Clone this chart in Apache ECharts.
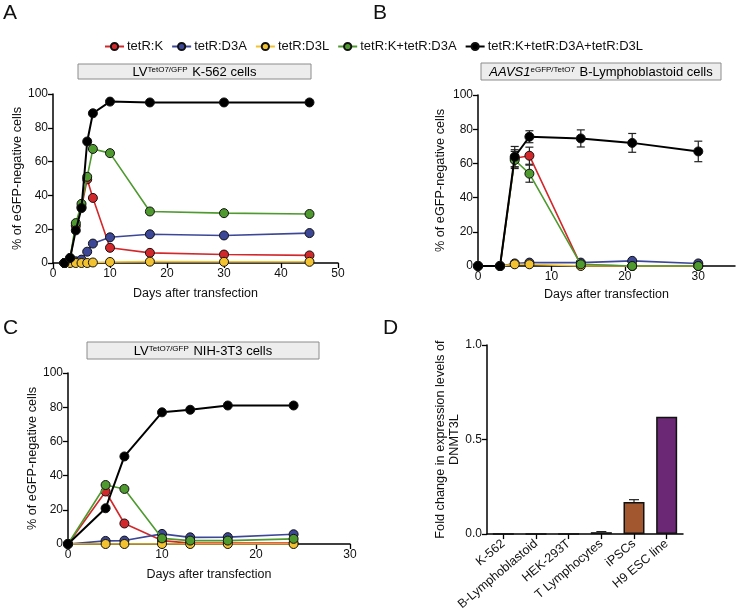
<!DOCTYPE html>
<html><head><meta charset="utf-8">
<script src="https://cdn.jsdelivr.net/npm/echarts@6/dist/echarts.min.js"></script>
<style>html,body{margin:0;padding:0;background:#fff}#c{width:747px;height:613px}</style>
</head><body><div id="c"></div>
<script>
const FONT = '"Liberation Sans", Arial, Helvetica, sans-serif';
const seriesNames = ['tetR:K','tetR:D3A','tetR:D3L','tetR:K+tetR:D3A','tetR:K+tetR:D3A+tetR:D3L'];
const seriesColors = ['#d3282b','#3c4798','#f2c230','#4e9a2f','#000000'];

// Panel A: LV TetO7/GFP K-562 cells
const aDays  = [2,3,4,5,6,7,10,17,30,45];
const aK     = [0,2,22,33,49.5,38.5,9,6,5,4.5];
const aD3A   = [0,1,1,2,6.7,11.5,15.2,17,16.3,17.7];
const aD3L   = [0,0,0,0,0,0.3,0.6,0.8,0.7,0.7];
const aKD3A  = [0,3,23.6,35,51,67.5,65,30.5,29.5,29];
const aAll   = [0,3,19.3,32.5,71.9,88.6,95.5,95,95,95];

// Panel B: AAVS1 eGFP/TetO7 B-Lymphoblastoid cells
const bDays  = [0,3,5,7,14,21,30];
const bK     = [0,0,63,64.5,0.5,0,0];
const bKErr  = [0,0,5,5,0,0,0];
const bD3A   = [0,0,1.5,2,2,3,1.5];
const bD3L   = [0,0,1,1,0,0,0];
const bKD3A  = [0,0,62,54,1,0,0];
const bKD3AErr = [0,0,5,5,0,0,0];
const bAll   = [0,0,63.9,75.6,74.6,72,67];
const bAllErr = [0,0,6,3.5,5,5.5,6];

// Panel C: LV TetO7/GFP NIH-3T3 cells
const cDays  = [0,4,6,10,13,17,24];
const cK     = [0,30.7,12,2,0.5,0.5,0.5];
const cD3A   = [0,1.8,2,5.9,3.9,4,5.7];
const cD3L   = [0,0,0,0,0,0,0];
const cKD3A  = [0,34.5,32.2,3.3,2,2,3];
const cAll   = [0,20.9,51.2,77,78.5,81,81];

// Panel D: DNMT3L expression
const dCategories = ['K-562','B-Lymphoblastoid','HEK-293T','T Lymphocytes','iPSCs','H9 ESC line'];
const dValues = [0,0,0,0.01,0.17,0.62];
const dErr    = [0,0,0,0.003,0.012,0];
const dColors = ['#555555','#555555','#555555','#555555','#a3572f','#6a2875'];

const zip = (xs, ys) => xs.map((x,i)=>[x, ys[i]]);
const zip3 = (xs, ys, es) => xs.map((x,i)=>[x, ys[i], es[i]]);

function lineSeries(idx, data, axis){
  const isBlack = idx === 4;
  return {
    type:'line', name: seriesNames[idx], xAxisIndex: axis, yAxisIndex: axis,
    data, symbol:'circle', symbolSize: 9, z: 2 + idx,
    lineStyle:{color: seriesColors[idx], width: isBlack ? 2 : 1.6},
    itemStyle:{color: seriesColors[idx], borderColor:'#111', borderWidth: 1},
    emphasis:{disabled:true}, animation:false
  };
}

function errRender(params, api){
  const x = api.value(0), y = api.value(1), e = api.value(2);
  if (!e) return null;
  const t = api.coord([x, y+e]), b = api.coord([x, y-e]);
  const w = 4, st = {stroke:'#222', lineWidth:1.2};
  return {type:'group', children:[
    {type:'line', shape:{x1:t[0],y1:t[1],x2:b[0],y2:b[1]}, style:st},
    {type:'line', shape:{x1:t[0]-w,y1:t[1],x2:t[0]+w,y2:t[1]}, style:st},
    {type:'line', shape:{x1:b[0]-w,y1:b[1],x2:b[0]+w,y2:b[1]}, style:st}
  ]};
}
function errRenderUp(params, api){
  const x = api.value(0), y = api.value(1), e = api.value(2);
  if (!e) return null;
  const t = api.coord([x, y+e]), b = api.coord([x, y]);
  const w = 5, st = {stroke:'#222', lineWidth:1.2};
  return {type:'group', children:[
    {type:'line', shape:{x1:t[0],y1:t[1],x2:b[0],y2:b[1]}, style:st},
    {type:'line', shape:{x1:t[0]-w,y1:t[1],x2:t[0]+w,y2:t[1]}, style:st}
  ]};
}

const axisCommon = {
  axisLine:{show:true, onZero:false, lineStyle:{color:'#000', width:1.5}},
  axisTick:{show:true, inside:false, length:5, lineStyle:{color:'#000', width:1.3}},
  axisLabel:{color:'#111', fontSize:12, fontFamily:FONT, margin:5},
  splitLine:{show:false},
  nameTextStyle:{color:'#111', fontSize:12.5, fontFamily:FONT}
};
function xVal(grid, max, interval, nameGap, custom){
  const a = Object.assign({}, axisCommon, {
    type:'value', gridIndex:grid, min:0, max, interval,
    name:'Days after transfection', nameLocation:'middle', nameGap
  });
  if (custom){
    a.axisLabel = Object.assign({}, axisCommon.axisLabel, {customValues:custom});
    a.axisTick = Object.assign({}, axisCommon.axisTick, {customValues:custom});
  }
  return a;
}
function yVal(grid, nameGap){
  return Object.assign({}, axisCommon, {
    type:'value', gridIndex:grid, min:0, max:100, interval:20,
    name:'% of eGFP-negative cells', nameLocation:'middle', nameGap,
    nameTextStyle:{color:'#111', fontSize:12.7, fontFamily:FONT}
  });
}

function titleBox(x, y, w, h, text, rich){
  return {type:'group', children:[
    {type:'rect', shape:{x, y, width:w, height:h}, style:{fill:'#ededed', stroke:'#8c8c8c', lineWidth:1}},
    {type:'text', x: x + w/2, y: y + h/2 + 1, style:{text, rich, align:'center', verticalAlign:'middle'}}
  ]};
}
const richBase = {
  n:{fontSize:13, fontFamily:FONT, color:'#111'},
  i:{fontSize:13, fontFamily:FONT, color:'#111', fontStyle:'italic'},
  s:{fontSize:8, fontFamily:FONT, color:'#111', verticalAlign:'top', padding:[0,1,6,0]}
};
function letter(t, x, y){
  return {type:'text', x, y, style:{text:t, fontSize:21, fontFamily:FONT, fill:'#111'}};
}

const option = {
  backgroundColor:'#fff',
  animation:false,
  legend:{
    data: seriesNames, top: 35, left:'center',
    itemWidth: 19, itemHeight: 9, itemGap: 8,
    textStyle:{fontSize:13, fontFamily:FONT, color:'#111', padding:[0,0,0,-2]}
  },
  grid:[
    {left:53, top:94, width:285, height:169},
    {left:478, top:95, width:257, height:171},
    {left:68, top:373, width:282, height:171},
    {left:487, top:345, width:196, height:190}
  ],
  xAxis:[
    xVal(0, 50, 10, 24),
    xVal(1, 35, 10, 22, [0,10,20,30]),
    xVal(2, 30, 10, 24),
    Object.assign({}, axisCommon, {
      type:'category', gridIndex:3, data:dCategories,
      axisTick:{show:true, alignWithLabel:true, length:5, lineStyle:{color:'#000', width:1.3}},
      axisLabel:{color:'#111', fontSize:12.5, fontFamily:FONT, rotate:40, margin:8, interval:0}
    })
  ],
  yAxis:[
    yVal(0, 29),
    yVal(1, 31),
    yVal(2, 28),
    Object.assign({}, axisCommon, {
      type:'value', gridIndex:3, min:0, max:1, interval:0.5,
      axisLabel:Object.assign({}, axisCommon.axisLabel, {formatter:v=>v.toFixed(1)}),
      name:'Fold change in expression levels of\nDNMT3L', nameLocation:'middle', nameGap:26,
      nameTextStyle:{color:'#111', fontSize:12.7, fontFamily:FONT, lineHeight:14}
    })
  ],
  series:[
    // A
    lineSeries(2, zip(aDays,aD3L), 0),
    lineSeries(1, zip(aDays,aD3A), 0),
    lineSeries(3, zip(aDays,aKD3A), 0),
    lineSeries(0, zip(aDays,aK), 0),
    lineSeries(4, zip(aDays,aAll), 0),
    // B
    {type:'custom', xAxisIndex:1, yAxisIndex:1, renderItem:errRender, data:zip3(bDays,bKD3A,bKD3AErr), z:1, silent:true},
    {type:'custom', xAxisIndex:1, yAxisIndex:1, renderItem:errRender, data:zip3(bDays,bK,bKErr), z:1, silent:true},
    {type:'custom', xAxisIndex:1, yAxisIndex:1, renderItem:errRender, data:zip3(bDays,bAll,bAllErr), z:1, silent:true},
    lineSeries(2, zip(bDays,bD3L), 1),
    lineSeries(1, zip(bDays,bD3A), 1),
    lineSeries(3, zip(bDays,bKD3A), 1),
    lineSeries(0, zip(bDays,bK), 1),
    lineSeries(4, zip(bDays,bAll), 1),
    // C
    lineSeries(2, zip(cDays,cD3L), 2),
    lineSeries(4, zip(cDays,cAll), 2),
    lineSeries(3, zip(cDays,cKD3A), 2),
    lineSeries(1, zip(cDays,cD3A), 2),
    lineSeries(0, zip(cDays,cK), 2),
    // D
    {type:'bar', xAxisIndex:3, yAxisIndex:3, barWidth:21,
     data: dValues.map((v,i)=>({value:v, itemStyle:{color:dColors[i]}})),
     itemStyle:{borderColor:'#111', borderWidth:1.5}, emphasis:{disabled:true}},
    {type:'custom', xAxisIndex:3, yAxisIndex:3, renderItem:errRenderUp,
     data: dValues.map((v,i)=>[i, v, dErr[i]]), z:3, silent:true}
  ],
  graphic:[
    letter('A', 3, 3), letter('B', 373, 3), letter('C', 3, 318), letter('D', 383, 318),
    titleBox(78, 64, 233, 15, '{n|LV}{s|TetO7/GFP}{n| K-562 cells}', richBase),
    titleBox(481, 63, 240, 17, '{i|AAVS1}{s|eGFP/TetO7}{n| B-Lymphoblastoid cells}', richBase),
    titleBox(87, 342, 232, 17, '{n|LV}{s|TetO7/GFP}{n| NIH-3T3 cells}', richBase)
  ]
};
echarts.init(document.getElementById('c'), null, {renderer:'canvas'}).setOption(option);
</script></body></html>
